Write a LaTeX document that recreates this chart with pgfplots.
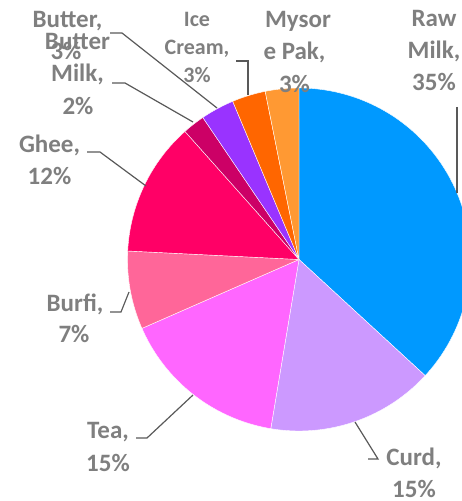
\documentclass[border=0pt]{standalone}
\usepackage{pgfplots}
\pgfplotsset{compat=1.18}
\usepackage{pgfplotstable}
\usepackage{fontspec}
\setmainfont{Carlito}

\definecolor{cRaw}{HTML}{0099FF}
\definecolor{cCurd}{HTML}{CC99FF}
\definecolor{cTea}{HTML}{FF66FF}
\definecolor{cBurfi}{HTML}{FF6699}
\definecolor{cGhee}{HTML}{FF0066}
\definecolor{cMilk}{HTML}{CC0066}
\definecolor{cButter}{HTML}{9933FF}
\definecolor{cIce}{HTML}{FF6600}
\definecolor{cMysore}{HTML}{FF9933}
\definecolor{lblgray}{HTML}{7F7F7F}
\definecolor{leadgray}{HTML}{595959}

% slices clockwise from 12 o'clock
\pgfplotstableread[col sep=comma]{
label,value
Raw Milk,35
Curd,15
Tea,15
Burfi,7
Ghee,12
Butter Milk,2
Butter,3
Ice Cream,3
Mysore Pak,3
}\piedata

\pgfplotstablegetrowsof{\piedata}
\pgfmathtruncatemacro\nslices{\pgfplotsretval-1}
\gdef\piesum{0}
\foreach \i in {0,...,\nslices}{%
  \pgfplotstablegetelem{\i}{value}\of\piedata
  \pgfmathsetmacro\tmp{\piesum+\pgfplotsretval}%
  \xdef\piesum{\tmp}}
\gdef\cum{0}
\expandafter\gdef\csname angle0\endcsname{0}
\foreach \i in {0,...,\nslices}{%
  \pgfplotstablegetelem{\i}{value}\of\piedata
  \pgfmathsetmacro\tmp{\cum+360*\pgfplotsretval/\piesum}%
  \xdef\cum{\tmp}%
  \pgfmathtruncatemacro\j{\i+1}%
  \expandafter\xdef\csname angle\j\endcsname{\cum}}

\def\cx{299}
\def\cy{241.5}
\def\R{171.5}

\newcommand\slice[2]{%
  \edef\next{\noexpand\addplot[fill=#2, draw=white, line width=0.4pt,
     domain=\csname angle#1\endcsname:\csname angle\the\numexpr#1+1\relax\endcsname,
     samples=90, variable=\noexpand\t]}%
  \next ({\cx+\R*sin(\t)},{\cy+\R*cos(\t)}) -- (axis cs:\cx,\cy) -- cycle;}

% label line: x (centre), y (baseline, pixels from top), text
\newcommand\lbl[3]{\node[anchor=base, inner sep=0pt, text=lblgray,
   font=\bfseries\fontsize{25}{32}\selectfont] at (axis cs:#1,{501-#2}) {#3};}
\newcommand\lbls[3]{\node[anchor=base, inner sep=0pt, text=lblgray,
   font=\bfseries\fontsize{22}{28}\selectfont] at (axis cs:#1,{501-#2}) {#3};}

\begin{document}
\begin{tikzpicture}
\begin{axis}[
  name=ax,
  scale only axis, width=462pt, height=501pt,
  xmin=0, xmax=462, ymin=0, ymax=501,
  hide axis, clip=true,
]
\slice{0}{cRaw}
\slice{1}{cCurd}
\slice{2}{cTea}
\slice{3}{cBurfi}
\slice{4}{cGhee}
\slice{5}{cMilk}
\slice{6}{cButter}
\slice{7}{cIce}
\slice{8}{cMysore}

% leader lines (pixel coords, y from top)
\begin{scope}[leadgray, line width=1.2pt]
\draw (axis cs:457,{501-107}) -- (axis cs:457,{501-193});
\draw (axis cs:236,{501-61}) -- (axis cs:248,{501-61}) -- (axis cs:248,{501-95});
\draw (axis cs:110,{501-33}) -- (axis cs:122,{501-33}) -- (axis cs:217,{501-108});
\draw (axis cs:112,{501-83}) -- (axis cs:125,{501-83}) -- (axis cs:193,{501-122});
\draw (axis cs:87,{501-152}) -- (axis cs:100,{501-152}) -- (axis cs:146,{501-186});
\draw (axis cs:110,{501-312}) -- (axis cs:121,{501-312}) -- (axis cs:129,{501-292});
\draw (axis cs:136,{501-438}) -- (axis cs:147,{501-438}) -- (axis cs:193,{501-395});
\draw (axis cs:368,{501-459}) -- (axis cs:378,{501-459}) -- (axis cs:355,{501-422});
\end{scope}

% labels
\lbl{434}{27}{Raw}
\lbl{434}{59}{Milk,}
\lbl{434}{91}{35\%}
\lbl{414}{465}{Curd,}
\lbl{414}{497}{15\%}
\lbl{108}{438}{Tea,}
\lbl{108}{471}{15\%}
\lbl{75}{312}{Burfi,}
\lbl{74}{343}{7\%}
\lbl{49.5}{153}{Ghee,}
\lbl{49.5}{185}{12\%}
\lbl{77.5}{50}{Butter}
\lbl{77.5}{82}{Milk,}
\lbl{78}{115}{2\%}
\lbl{67.5}{28}{Butter,}
\lbl{66}{60}{3\%}
\lbls{197}{27}{Ice}
\lbls{197}{55}{Cream,}
\lbls{197}{83}{3\%}
\lbl{298}{28}{Mysor}
\lbl{294.5}{60}{e Pak,}
\lbl{294.5}{93}{3\%}
\end{axis}
\pgfresetboundingbox
\path (ax.south west) rectangle (ax.north east);
\end{tikzpicture}
\end{document}
